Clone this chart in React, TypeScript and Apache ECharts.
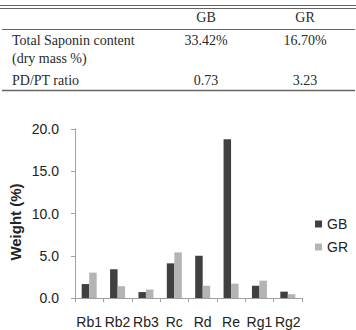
import React, { useEffect, useRef } from "react";
import * as echarts from "echarts";

const categories = ["Rb1", "Rb2", "Rb3", "Rc", "Rd", "Re", "Rg1", "Rg2"];
const gbValues = [1.65, 3.4, 0.7, 4.1, 5.0, 18.8, 1.45, 0.75];
const grValues = [3.0, 1.4, 1.0, 5.4, 1.45, 1.7, 2.05, 0.45];
const yTicks = [0, 5, 10, 15, 20];
const tableHeader = ["", "GB", "GR"];
const tableRows = [
  ["Total Saponin content", "33.42%", "16.70%"],
  ["PD/PT ratio", "0.73", "3.23"],
];
const tableNote = "(dry mass %)";

export default function App() {
  const ref = useRef<HTMLDivElement>(null);
  useEffect(() => {
    document.body.style.margin = "0";
    const chart = echarts.init(ref.current!, undefined, { renderer: "svg" });
    const serif = "'Liberation Serif', 'Times New Roman', serif";
    const sans = "'Liberation Sans', Arial, sans-serif";
    const tcol = "#2a2a2a";
    const lineCol = "#666";
    const colX = [12, 206, 305];
    const graphic: any[] = [
      { type: "line", shape: { x1: 0, y1: 5.5, x2: 356, y2: 5.5 }, style: { stroke: lineCol, lineWidth: 1 } },
      { type: "line", shape: { x1: 0, y1: 8.5, x2: 356, y2: 8.5 }, style: { stroke: lineCol, lineWidth: 1 } },
      { type: "line", shape: { x1: 2, y1: 29.5, x2: 355, y2: 29.5 }, style: { stroke: lineCol, lineWidth: 1 } },
      { type: "line", shape: { x1: 2, y1: 90.5, x2: 355, y2: 90.5 }, style: { stroke: lineCol, lineWidth: 1.5 } },
      {
        type: "text", x: 15, y: 222, rotation: Math.PI / 2,
        style: { text: "Weight (%)", font: `bold 15px ${sans}`, fill: "#222", align: "center", verticalAlign: "middle" },
      },
    ];
    tableHeader.forEach((h, i) => {
      if (!h) return;
      graphic.push({ type: "text", x: colX[i], y: 17.5, style: { text: h, font: `14px ${serif}`, fill: tcol, align: "center", verticalAlign: "middle" } });
    });
    const rowY = [40.5, 80];
    tableRows.forEach((row, r) => {
      row.forEach((cell, i) => {
        graphic.push({
          type: "text", x: colX[i], y: rowY[r],
          style: { text: cell, font: `14px ${serif}`, fill: tcol, align: i === 0 ? "left" : "center", verticalAlign: "middle" },
        });
      });
    });
    graphic.push({ type: "text", x: colX[0], y: 58.5, style: { text: tableNote, font: `14px ${serif}`, fill: tcol, align: "left", verticalAlign: "middle" } });

    chart.setOption({
      animation: false,
      textStyle: { fontFamily: sans },
      grid: { left: 75, right: 54, top: 129, bottom: 32 },
      legend: {
        orient: "vertical", left: 315, top: 217, padding: 0,
        itemWidth: 7, itemHeight: 7, itemGap: 9,
        icon: "rect",
        textStyle: { fontSize: 14, color: "#222", fontFamily: sans, lineHeight: 14 },
        data: ["GB", "GR"],
      },
      xAxis: {
        type: "category",
        data: categories,
        axisLine: { lineStyle: { color: "#a0a0a0", width: 1 } },
        axisTick: { show: true, length: 4, lineStyle: { color: "#a0a0a0" } },
        axisLabel: { fontSize: 14, color: "#222", margin: 17, interval: 0 },
      },
      yAxis: {
        type: "value",
        min: 0, max: 20, interval: 5,
        axisLine: { show: true, lineStyle: { color: "#a0a0a0", width: 1 } },
        axisTick: { show: true, length: 4, lineStyle: { color: "#a0a0a0" } },
        splitLine: { show: false },
        axisLabel: { fontSize: 14, color: "#222", margin: 16, formatter: (v: number) => (yTicks.includes(v) ? v.toFixed(1) : "") },
      },
      series: [
        { name: "GB", type: "bar", data: gbValues, itemStyle: { color: "#404040" }, barWidth: 7.5, barGap: "0%" },
        { name: "GR", type: "bar", data: grValues, itemStyle: { color: "#b4b4b4" }, barWidth: 7.5, barGap: "0%" },
      ],
      graphic,
    });
    return () => chart.dispose();
  }, []);
  return <div ref={ref} style={{ position: "absolute", left: 0, top: 0, width: 356, height: 330, background: "#fff" }} />;
}
